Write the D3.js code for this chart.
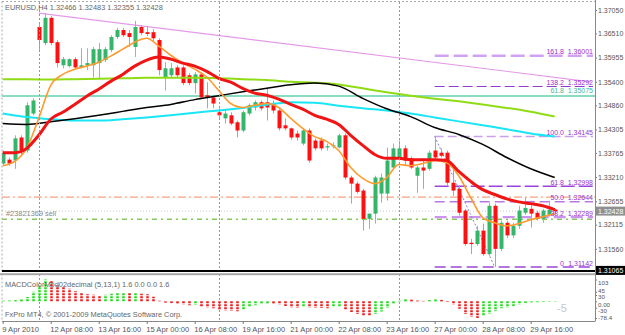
<!DOCTYPE html>
<html><head><meta charset="utf-8">
<script src="https://cdn.jsdelivr.net/npm/d3@7"></script>
<style>body{margin:0;background:#fff}svg{display:block;font-family:"Liberation Sans",Arial,sans-serif}</style>
</head><body><div id="chart"></div>
<script>
// EURUSD H4 candles, bar 0 = 9 Apr 2010 00:00
var opens = [1.3352,1.3361,1.3359,1.3412,1.3382,1.3467,1.3666,1.3629,1.3687,1.3631,
  1.3578,1.3576,1.3592,1.3573,1.3578,1.3578,1.3583,1.3590,1.3613,1.3643,
  1.3659,1.3652,1.3620,1.3666,1.3654,1.3654,1.3636,1.3550,1.3555,1.3573,
  1.3573,1.3555,1.3537,1.3557,1.3509,1.3504,1.3470,1.3456,1.3463,1.3447,
  1.3428,1.3467,1.3481,1.3493,1.3493,1.3490,1.3474,1.3440,1.3433,1.3421,
  1.3398,1.3428,1.3405,1.3405,1.3389,1.3392,1.3389,1.3417,1.3320,1.3306,
  1.3290,1.3225,1.3237,1.3283,1.3283,1.3343,1.3364,1.3387,1.3364,1.3324,
  1.3343,1.3340,1.3382,1.3377,1.3377,1.3308,1.3294,1.3244,1.3170,1.3167,
  1.3198,1.3144,1.3255,1.3156,1.3216,1.3187,1.3209,1.3239,1.3248,1.3239,
  1.3225,1.3234,1.32466];
var highs = [1.3382,1.3366,1.3417,1.3417,1.3493,1.3502,1.3677,1.3698,1.3691,1.3636,
  1.3597,1.3594,1.3597,1.3617,1.3617,1.3620,1.3629,1.3620,1.3647,1.3664,
  1.3664,1.3659,1.3680,1.3670,1.3668,1.3661,1.3640,1.3585,1.3583,1.3578,
  1.3578,1.3560,1.3562,1.3562,1.3539,1.3509,1.3479,1.3474,1.3470,1.3451,
  1.3474,1.3490,1.3497,1.3497,1.3525,1.3497,1.3479,1.3456,1.3435,1.3428,
  1.3433,1.3433,1.3410,1.3412,1.3398,1.3401,1.3421,1.3421,1.3324,1.3311,
  1.3294,1.3237,1.3324,1.3329,1.3389,1.3398,1.3405,1.3394,1.3368,1.3347,
  1.3364,1.3382,1.34145,1.3387,1.3382,1.3347,1.3301,1.3248,1.3179,1.3209,
  1.3214,1.3262,1.3260,1.3221,1.3221,1.3216,1.3255,1.3274,1.3267,1.3244,
  1.3248,1.3267,1.32483];
var lows = [1.3347,1.3347,1.3340,1.3370,1.3377,1.3463,1.3608,1.3624,1.3624,1.3573,
  1.3571,1.3573,1.3569,1.3571,1.3567,1.3550,1.3548,1.3585,1.3608,1.3638,
  1.3643,1.3620,1.3597,1.3647,1.3645,1.3631,1.3555,1.3520,1.3548,1.3550,
  1.3532,1.3532,1.3513,1.3502,1.3479,1.3479,1.3456,1.3444,1.3440,1.3412,
  1.3424,1.3463,1.3474,1.3474,1.3451,1.3467,1.3428,1.3428,1.3407,1.3405,
  1.3394,1.3354,1.3382,1.3382,1.3382,1.3387,1.3387,1.3315,1.3260,1.3283,
  1.3198,1.3202,1.3214,1.3262,1.3267,1.3340,1.3359,1.3347,1.3340,1.3285,
  1.3294,1.3336,1.3359,1.3366,1.3301,1.3278,1.3232,1.3163,1.3144,1.3163,
  1.3140,1.3140,1.31142,1.3151,1.3181,1.3181,1.3202,1.3234,1.3205,1.3221,
  1.3216,1.3230,1.32355];
var closes = [1.3377,1.3352,1.3410,1.3382,1.3486,1.3497,1.3636,1.3687,1.3629,1.3583,
  1.3592,1.3592,1.3573,1.3578,1.3583,1.3615,1.3615,1.3615,1.3643,1.3659,
  1.3647,1.3643,1.3666,1.3652,1.3650,1.3640,1.3567,1.3571,1.3571,1.3555,
  1.3537,1.3537,1.3557,1.3504,1.3504,1.3490,1.3463,1.3467,1.3444,1.3428,
  1.3470,1.3486,1.3493,1.3479,1.3481,1.3474,1.3433,1.3433,1.3412,1.3412,
  1.3428,1.3359,1.3387,1.3387,1.3392,1.3394,1.3417,1.3320,1.3306,1.3287,
  1.3225,1.3237,1.3320,1.3320,1.3359,1.3387,1.3387,1.3359,1.3343,1.3343,
  1.3336,1.3377,1.3366,1.3370,1.3308,1.3290,1.3239,1.3167,1.3167,1.3198,
  1.3144,1.3255,1.3156,1.3216,1.3187,1.3209,1.3244,1.3250,1.3237,1.3225,
  1.3244,1.3246,1.32428];

// moving averages, read every 4 bars (slow) or every 2 bars (fast)
var maGreen = [1.3546,1.3546,1.3545,1.3546,1.3547,1.3548,1.3549,1.3549,1.3549,1.3548,1.3546,1.3544,
  1.3540,1.3538,1.3534,1.3525,1.3516,1.3508,1.3501,1.3495,1.3488,1.3480,1.3471,1.3460];
var maBlack = [1.3444,1.3442,1.3448,1.3455,1.3463,1.3472,1.3481,1.3488,1.3499,1.3508,1.3517,1.3525,
  1.3533,1.3537,1.3530,1.3502,1.3478,1.3460,1.3435,1.3419,1.3396,1.3366,1.3340,1.3320];
var maCyan = [1.3467,1.3459,1.3454,1.3451,1.3451,1.3454,1.3458,1.3463,1.3469,1.3474,1.3480,1.3487,
  1.3493,1.3492,1.3485,1.3479,1.3474,1.3467,1.3458,1.3449,1.3440,1.3431,1.3421,1.3414];
var maRed = [1.3377,1.3377,1.3387,1.3417,1.3454,1.3470,1.3488,1.3507,1.3523,1.3541,
  1.3557,1.3576,1.3590,1.3597,1.3592,1.3583,1.3576,1.3564,1.3548,1.3539,
  1.3525,1.3514,1.3509,1.3500,1.3488,1.3477,1.3463,1.3454,1.3442,1.3417,
  1.3394,1.3373,1.3364,1.3364,1.3361,1.3361,1.3361,1.3359,1.3334,1.3311,
  1.3292,1.3281,1.3271,1.3264,1.3260,1.3255,1.3246];
var maOrange = [1.3347,1.3357,1.3387,1.3456,1.3532,1.3557,1.3569,1.3576,1.3585,1.3599,
  1.3615,1.3631,1.3640,1.3622,1.3601,1.3583,1.3569,1.3551,1.3520,1.3490,
  1.3481,1.3486,1.3490,1.3481,1.3456,1.3433,1.3414,1.3403,1.3382,1.3343,
  1.3318,1.3306,1.3320,1.3350,1.3347,1.3352,1.3359,1.3354,1.3324,1.3274,
  1.3228,1.3216,1.3209,1.3214,1.3223,1.3230,1.3237];

// MACD histogram
var macd = [3,4,6,9,20,45,75,103,98,76,
  66,59,48,40,34,31,29,31,36,40,
  41,38,39,36,33,22,3,-6,-8,-12,
  -15,-18,-16,-26,-29,-32,-41,-43,-44,-47,
  -37,-26,-18,-12,-10,-12,-15,-22,-29,-30,
  -26,-29,-30,-31,-32,-28,-27,-40,-50,-60,
  -66,-70,-60,-48,-30,-12,3,10,8,4,
  2,6,9,7,-3,-15,-35,-60,-72,-78.4,
  -68,-58,-45,-33,-29,-22,-15,-8,-5,-4,
  -3,-2,-1.5];

var priceTicks = [1.37050,1.36510,1.35955,1.35400,1.34860,1.34305,1.33765,1.33210,1.32655,1.32115,1.31560];
var timeTickBars = [0,8,16,24,32,40,48,56,64,72,80,88];
var timeLabels = ["9 Apr 2010","12 Apr 08:00","13 Apr 16:00","15 Apr 00:00","16 Apr 08:00","19 Apr 16:00",
  "21 Apr 00:00","22 Apr 08:00","23 Apr 16:00","27 Apr 00:00","28 Apr 08:00","29 Apr 16:00"];
var weekStarts = [6,36,66];
var histTicks = [103,45,30,0,-30,-78.4];
var histLabels = ["103","45","30","0.00","-30","-78.4"];

var fibLevels = ["0","38.2","50.0","61.8","100.0","138.2","161.8"];
var fibPrices = [1.31142,1.32289,1.32644,1.32998,1.34145,1.35292,1.36001];
var fibStart = 72, fibEnd = 82;
var trendFrom = [6, 1.3698], trendTo = [98, 1.3540];
var tealLevel = 1.35075;
var bid = 1.32428, hline = 1.31065, orderPrice = 1.3224, stopPrice = 1.3275;

var W = 625, H = 335, right = 595, fs = 7;
var svg = d3.select("#chart").append("svg").attr("width", W).attr("height", H);
svg.append("rect").attr("width", W).attr("height", H).attr("fill", "#fff");

var x = d3.scaleLinear().domain([0, 98]).range([2.7, 590.7]);
var y = d3.scaleLinear().domain([hline, 1.37050]).range([270.4, 10]);
var hy = d3.scaleLinear().domain([-78.4, 103]).range([318, 279.5]);

svg.append("clipPath").attr("id", "mainclip").append("rect")
  .attr("x", 2).attr("y", 2).attr("width", right - 2).attr("height", 271);
var main = svg.append("g").attr("clip-path", "url(#mainclip)");

// frame and week separators
svg.append("line").attr("x1", 2).attr("x2", right).attr("y1", 1.5).attr("y2", 1.5)
  .attr("stroke", "#aaa").attr("stroke-dasharray", "2,2");
svg.append("line").attr("x1", 2).attr("x2", 2).attr("y1", 1.5).attr("y2", 321)
  .attr("stroke", "#aaa").attr("stroke-dasharray", "2,2");
svg.selectAll(".week").data(weekStarts).enter().append("line")
  .attr("x1", function(d) { return Math.round(x(d)) + 0.5; })
  .attr("x2", function(d) { return Math.round(x(d)) + 0.5; })
  .attr("y1", 2).attr("y2", 321)
  .attr("stroke", "#999").attr("stroke-dasharray", "2,2");

// horizontal objects
function hLine(p, color, w, dash) {
  main.append("line").attr("x1", 2).attr("x2", right)
    .attr("y1", y(p)).attr("y2", y(p))
    .attr("stroke", color).attr("stroke-width", w).attr("stroke-dasharray", dash);
}
hLine(tealLevel, "#63d1ad", 1.5, null);
hLine(stopPrice, "#f5a17e", 1.2, "8,3,2,3");
hLine(orderPrice, "#86c95a", 1.5, "5,4,2,4");
hLine(bid, "#c8c8c8", 1, "1,2");

main.append("line")
  .attr("x1", x(trendFrom[0])).attr("y1", y(trendFrom[1]))
  .attr("x2", x(trendTo[0])).attr("y2", y(trendTo[1]))
  .attr("stroke", "#e49ae8").attr("stroke-width", 1.2);

// fibonacci
var fibStyle = {
  "0": ["#9b45d8", 1.5, "11,5"], "38.2": ["#cc94ee", 2.2, "12,5"], "50.0": ["#b878e2", 1.5, "10,5"],
  "61.8": ["#9b45d8", 1.5, "14,4"], "100.0": ["#c9a0ec", 1.5, "9,4"], "138.2": ["#8f3acf", 1, "10,4"],
  "161.8": ["#d2a2f2", 2.5, "14,5"]
};
fibLevels.forEach(function(lv, i) {
  var s = fibStyle[lv], yy = y(fibPrices[i]);
  main.append("line").attr("x1", x(fibStart)).attr("x2", 593).attr("y1", yy).attr("y2", yy)
    .attr("stroke", s[0]).attr("stroke-width", s[1]).attr("stroke-dasharray", s[2]);
});
main.append("line")
  .attr("x1", x(fibStart)).attr("y1", y(highs[fibStart]))
  .attr("x2", x(fibEnd)).attr("y2", y(lows[fibEnd]))
  .attr("stroke", "#8a7fc8").attr("stroke-dasharray", "2,2");

// candles
var bars = d3.range(opens.length);
main.selectAll(".wick").data(bars).enter().append("line")
  .attr("x1", function(i) { return Math.round(x(i)) + 0.5; })
  .attr("x2", function(i) { return Math.round(x(i)) + 0.5; })
  .attr("y1", function(i) { return y(highs[i]); })
  .attr("y2", function(i) { return y(lows[i]); })
  .attr("stroke", function(i) { return closes[i] >= opens[i] ? "#74cc9c" : "#ff8282"; });
main.selectAll(".body").data(bars).enter().append("rect")
  .attr("x", function(i) { return Math.round(x(i)) - 1.5; })
  .attr("width", 4)
  .attr("y", function(i) { return y(Math.max(opens[i], closes[i])); })
  .attr("height", function(i) { return Math.max(1, Math.abs(y(opens[i]) - y(closes[i]))); })
  .attr("fill", function(i) { return closes[i] >= opens[i] ? "#35b56a" : "#ff1010"; });

// moving averages
function maLine(vals, step, color, w) {
  var line = d3.line().x(function(d, i) { return x(i * step); }).y(function(d) { return y(d); })
    .curve(d3.curveMonotoneX);
  main.append("path").datum(vals).attr("d", line).attr("fill", "none")
    .attr("stroke", color).attr("stroke-width", w).attr("stroke-linejoin", "round");
}
maLine(maGreen, 4, "#8fdc14", 2);
maLine(maCyan, 4, "#19e6f5", 2);
maLine(maBlack, 4, "#000", 1.5);
maLine(maOrange, 2, "#ff9a2e", 1.6);
maLine(maRed, 2, "#f01414", 3);

// fib labels
var labels = svg.append("g").attr("font-size", fs);
fibLevels.forEach(function(lv, i) {
  var yy = y(fibPrices[i]) - 1.2;
  labels.append("text").attr("x", 564).attr("y", yy).attr("text-anchor", "end").attr("fill", "#9933cc").text(lv);
  labels.append("text").attr("x", 593).attr("y", yy).attr("text-anchor", "end").attr("fill", "#9933cc").text(fibPrices[i].toFixed(5));
});
labels.append("text").attr("x", 564).attr("y", y(tealLevel) - 3).attr("text-anchor", "end").attr("fill", "#40b89a").text("61.8");
labels.append("text").attr("x", 593).attr("y", y(tealLevel) - 3).attr("text-anchor", "end").attr("fill", "#40b89a").text(tealLevel.toFixed(5));

// horizontal line at 1.31065 and window separator
svg.append("line").attr("x1", 2).attr("x2", right).attr("y1", 271).attr("y2", 271)
  .attr("stroke", "#000").attr("stroke-width", 2.2);
svg.append("rect").attr("x", 0).attr("y", 273.2).attr("width", right).attr("height", 2).attr("fill", "#a8a8a8");

// MACD histogram
svg.selectAll(".hist").data(macd).enter().append("line")
  .attr("x1", function(d, i) { return Math.round(x(i)) + 0.5; })
  .attr("x2", function(d, i) { return Math.round(x(i)) + 0.5; })
  .attr("y1", hy(0))
  .attr("y2", function(d) { return hy(d); })
  .attr("stroke", function(d, i) { return i == 0 || d >= macd[i - 1] ? "#1ee01a" : "#f21a1a"; })
  .attr("stroke-width", 2.6).attr("stroke-dasharray", "2,1");

// texts
var txt = svg.append("g").attr("font-size", 7.4).attr("fill", "#666");
txt.append("text").attr("x", 5).attr("y", 10).text("EURUSD,H4  1.32466 1.32483 1.32355 1.32428");
txt.append("text").attr("x", 6).attr("y", y(bid) + 5).attr("fill", "#888").text("#23821369 sell");
txt.append("text").attr("x", 5).attr("y", 287).text("MACDColorMod02decimal (5,13,1) 1.6 0.0 0.0 1.6");
txt.append("text").attr("x", 5).attr("y", 317).text("FxPro MT4, \u00a9 2001-2009 MetaQuotes Software Corp.");
svg.append("text").attr("x", 557).attr("y", 312).attr("font-size", 11).attr("fill", "#c8c8c8").text("-5");

// price axis
var pAxis = svg.append("g").attr("transform", "translate(" + right + ",0)")
  .call(d3.axisRight(y).tickValues(priceTicks).tickFormat(d3.format(".5f")).tickSize(2).tickPadding(1));
pAxis.select(".domain").remove();
var hAxis = svg.append("g").attr("transform", "translate(" + right + ",0)")
  .call(d3.axisRight(hy).tickValues(histTicks).tickFormat(function(d, i) { return histLabels[i]; }).tickSize(2).tickPadding(1));
hAxis.select(".domain").remove();
svg.selectAll(".tick text").attr("font-size", fs).attr("fill", "#555").attr("font-family", "Liberation Sans, Arial");
hAxis.selectAll("text").attr("font-size", 6.2);
// crowded MACD labels pushed apart a little
hAxis.selectAll("text").filter(function(d) { return d == 103; }).attr("dy", "0.8em");
hAxis.selectAll("text").filter(function(d) { return d == 45; }).attr("dy", "0.1em");
hAxis.selectAll("text").filter(function(d) { return d == 30; }).attr("dy", "0.6em");
hAxis.selectAll("text").filter(function(d) { return d == 0; }).attr("dy", "0.75em");
hAxis.selectAll("text").filter(function(d) { return d == -30; }).attr("dy", "0.75em");
svg.selectAll(".tick line").attr("stroke", "#777");
svg.append("line").attr("x1", right + 0.5).attr("x2", right + 0.5).attr("y1", 0).attr("y2", 321.5).attr("stroke", "#888");

// bid and hline price boxes
[[bid, "#8f8f8f"], [hline, "#000"]].forEach(function(b) {
  svg.append("rect").attr("x", 596).attr("y", y(b[0]) - 4.5).attr("width", 29).attr("height", 9).attr("fill", b[1]);
  svg.append("text").attr("x", 598).attr("y", y(b[0]) + 2.5).attr("font-size", fs).attr("fill", "#fff").text(b[0].toFixed(5));
});

// time axis
var tAxis = svg.append("g").attr("transform", "translate(0,321)")
  .call(d3.axisBottom(x).tickValues(timeTickBars).tickFormat(function(d, i) { return timeLabels[i]; }).tickSize(3));
tAxis.select(".domain").attr("stroke", "#888").attr("d", "M2,0.5H" + right);
tAxis.selectAll("text").attr("text-anchor", "start").attr("dx", "-1").attr("y", 6)
  .attr("font-size", 7.6).attr("fill", "#555");
tAxis.selectAll(".tick line").attr("stroke", "#777");
</script>
</body></html>
